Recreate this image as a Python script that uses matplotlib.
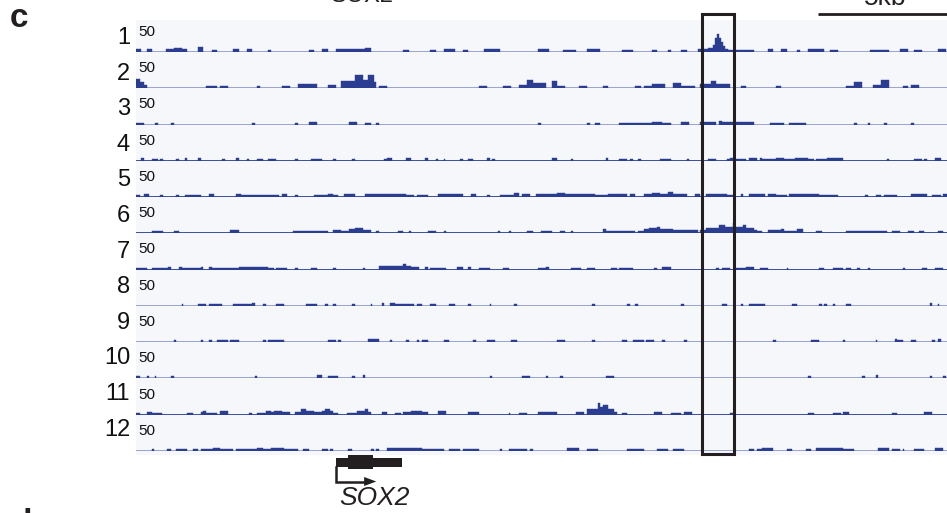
import matplotlib
matplotlib.use('Agg')
import matplotlib.pyplot as plt
from matplotlib.patches import Rectangle, Polygon

plt.rcParams['font.family'] = ['Liberation Sans', 'DejaVu Sans']

# signal per track: (start kb, end kb, value)
track1 = [(0.0, 0.2, 4), (0.4, 0.6, 4), (1.1, 1.4, 4), (1.4, 1.7, 6), (1.7, 1.9, 4),
          (2.3, 2.5, 8), (2.8, 3.0, 3), (3.6, 3.8, 4), (4.1, 4.3, 4), (4.9, 5.0, 3),
          (6.4, 6.6, 3), (6.9, 7.1, 4), (7.4, 7.6, 5), (7.6, 8.2, 4), (8.2, 8.5, 5),
          (8.5, 8.7, 6), (9.9, 10.1, 3), (10.9, 11.1, 3), (11.4, 11.8, 4), (12.1, 12.3, 3),
          (12.9, 13.5, 4), (14.9, 15.3, 4), (15.8, 16.3, 3), (16.7, 17.2, 4), (18.0, 18.4, 3),
          (19.1, 19.3, 3), (19.7, 19.8, 3), (20.2, 20.4, 3), (20.8, 21.0, 4), (21.0, 21.2, 4),
          (21.2, 21.37, 6), (21.37, 21.44, 11), (21.44, 21.52, 21), (21.52, 21.6, 27),
          (21.6, 21.67, 21), (21.67, 21.74, 15), (21.74, 21.81, 9), (21.81, 21.93, 5),
          (21.93, 22.1, 3), (22.2, 22.9, 3), (23.4, 23.6, 4), (23.9, 24.1, 4), (24.5, 24.6, 3),
          (24.9, 25.5, 4), (25.7, 26.0, 3), (27.2, 27.7, 3), (27.7, 27.9, 3), (28.3, 28.6, 5),
          (28.8, 29.1, 3), (29.7, 30.0, 4)]
track2 = [(0.0, 0.15, 14), (0.15, 0.3, 9), (0.3, 0.4, 5), (2.6, 3.0, 3), (3.1, 3.4, 3),
          (4.5, 4.6, 3), (5.4, 5.7, 3), (6.0, 6.7, 6), (7.1, 7.4, 5), (7.6, 8.1, 11),
          (8.1, 8.4, 20), (8.4, 8.6, 12), (8.6, 8.8, 20), (8.8, 8.9, 9), (9.0, 9.3, 4),
          (12.7, 13.0, 3), (13.6, 13.9, 3), (14.2, 14.5, 5), (14.5, 14.7, 12), (14.7, 15.2, 8),
          (15.4, 15.6, 11), (15.6, 15.9, 4), (16.4, 16.7, 3), (17.3, 17.5, 3), (18.5, 18.7, 3),
          (18.8, 19.1, 3), (19.1, 19.6, 6), (19.9, 20.2, 8), (20.2, 20.7, 4), (20.9, 21.3, 6),
          (21.3, 21.5, 11), (21.5, 22.0, 6), (22.4, 22.6, 3), (23.7, 23.9, 3), (26.3, 26.6, 4),
          (26.6, 26.9, 9), (27.3, 27.6, 5), (27.6, 27.9, 12), (28.4, 28.6, 3), (28.7, 29.0, 5)]
track3 = [(0.0, 0.3, 3), (0.7, 0.8, 3), (1.3, 1.4, 3), (4.3, 4.4, 3), (5.9, 6.0, 3),
          (6.4, 6.7, 4), (7.9, 8.2, 4), (8.5, 8.7, 3), (8.9, 9.0, 3), (14.9, 15.0, 3),
          (16.7, 16.8, 3), (17.0, 17.2, 3), (17.9, 19.1, 3), (19.1, 19.5, 4), (19.5, 19.8, 3),
          (20.2, 20.5, 4), (20.9, 21.5, 4), (21.6, 21.7, 6), (21.7, 22.1, 4), (22.2, 22.9, 4),
          (23.5, 24.0, 3), (24.2, 24.8, 3), (26.6, 26.7, 3), (27.1, 27.2, 3), (27.7, 27.8, 3),
          (28.7, 28.8, 3)]
track4 = [(0.2, 0.3, 5), (0.6, 0.8, 3), (0.9, 1.0, 3), (1.5, 1.6, 3), (1.8, 1.9, 4),
          (2.3, 2.4, 4), (3.2, 3.3, 3), (3.7, 3.8, 5), (4.1, 4.2, 3), (4.5, 4.7, 3),
          (4.9, 5.2, 3), (5.9, 6.0, 3), (6.5, 6.9, 3), (7.3, 7.4, 3), (8.0, 8.1, 3),
          (9.2, 9.3, 3), (9.3, 9.5, 5), (10.0, 10.2, 4), (10.7, 10.8, 5), (11.1, 11.2, 3),
          (11.4, 11.45, 3), (12.0, 12.1, 3), (12.3, 12.5, 3), (13.0, 13.1, 4), (13.2, 13.3, 3),
          (15.4, 15.6, 5), (16.1, 16.2, 3), (17.4, 17.5, 5), (17.9, 18.2, 3), (18.3, 18.4, 3),
          (18.6, 18.7, 3), (19.4, 19.8, 3), (20.4, 20.5, 3), (21.2, 21.5, 3), (21.9, 22.0, 3),
          (22.0, 22.2, 4), (22.2, 22.6, 3), (22.7, 23.0, 4), (23.1, 23.2, 5), (23.2, 23.7, 3),
          (23.7, 24.0, 4), (24.0, 24.4, 3), (24.4, 24.6, 5), (24.6, 24.9, 4), (24.9, 25.1, 3),
          (25.2, 25.6, 3), (25.6, 26.2, 4), (27.8, 27.9, 3), (28.8, 29.1, 3), (29.2, 29.3, 3),
          (29.6, 29.8, 5)]
track5 = [(0.0, 0.15, 3), (0.3, 0.5, 4), (0.9, 1.0, 3), (1.5, 1.6, 3), (1.8, 2.4, 3),
          (2.7, 2.9, 4), (3.7, 3.9, 4), (3.9, 4.9, 3), (4.9, 5.3, 3), (5.4, 5.6, 5),
          (5.9, 6.0, 3), (6.6, 7.1, 3), (7.1, 7.3, 4), (7.3, 7.5, 3), (7.7, 8.1, 4),
          (8.5, 9.2, 4), (9.2, 9.3, 5), (9.3, 10.0, 4), (10.0, 10.3, 3), (10.4, 10.8, 3),
          (11.2, 11.9, 5), (11.9, 12.1, 4), (12.4, 12.6, 5), (13.0, 13.1, 3), (13.5, 14.0, 3),
          (14.0, 14.2, 6), (14.3, 14.6, 4), (14.8, 15.0, 5), (15.0, 15.6, 4), (15.6, 15.9, 6),
          (15.9, 16.6, 4), (16.6, 17.0, 5), (17.0, 17.5, 3), (17.5, 17.8, 4), (17.8, 18.0, 5),
          (18.0, 18.2, 4), (18.3, 18.5, 4), (18.8, 19.1, 4), (19.1, 19.4, 6), (19.4, 19.7, 4),
          (19.7, 19.9, 8), (19.9, 20.4, 5), (20.7, 20.9, 4), (21.1, 21.9, 5), (21.9, 22.1, 3),
          (22.4, 22.5, 4), (22.7, 23.3, 4), (23.4, 23.7, 4), (23.7, 24.1, 3), (24.2, 24.7, 4),
          (24.7, 25.3, 4), (25.3, 26.0, 3), (27.0, 27.1, 3), (27.4, 27.6, 3), (27.7, 28.2, 3),
          (28.7, 29.3, 5), (29.5, 29.8, 3), (29.9, 30.1, 4)]
track6 = [(0.6, 1.0, 4), (1.4, 1.6, 3), (3.5, 3.8, 5), (5.8, 6.4, 4), (6.4, 7.1, 3),
          (7.3, 7.6, 5), (7.6, 7.9, 4), (7.9, 8.1, 6), (8.1, 8.4, 8), (8.4, 8.7, 5),
          (8.9, 9.0, 4), (9.7, 9.9, 4), (10.1, 10.2, 4), (10.8, 11.1, 4), (11.4, 11.5, 3),
          (13.4, 13.5, 3), (13.8, 13.9, 3), (14.5, 14.7, 4), (15.0, 15.2, 3), (15.2, 15.4, 4),
          (15.7, 15.9, 3), (16.1, 16.2, 3), (17.3, 17.4, 6), (17.4, 17.9, 3), (17.9, 18.5, 4),
          (18.6, 18.8, 4), (18.8, 19.0, 6), (19.0, 19.3, 8), (19.3, 19.4, 9), (19.4, 19.9, 6),
          (19.9, 20.8, 5), (20.9, 21.1, 5), (21.1, 21.6, 8), (21.6, 21.8, 12), (21.8, 22.1, 9),
          (22.1, 22.2, 15), (22.2, 22.5, 9), (22.5, 22.6, 12), (22.6, 22.9, 8), (22.9, 23.0, 5),
          (23.0, 23.2, 3), (23.4, 23.9, 5), (23.9, 24.0, 6), (24.0, 24.5, 4), (24.5, 24.7, 6),
          (25.2, 25.4, 3), (26.3, 27.3, 3), (27.3, 27.8, 4), (28.0, 28.3, 3), (28.6, 28.8, 4),
          (29.0, 29.2, 4), (29.7, 29.9, 3)]
track7 = [(0.0, 0.4, 3), (0.6, 1.2, 3), (1.2, 1.3, 4), (1.6, 1.7, 4), (1.7, 2.4, 3),
          (2.4, 2.5, 4), (2.7, 2.8, 4), (2.8, 3.8, 3), (3.8, 4.9, 4), (4.9, 5.1, 3),
          (5.2, 5.6, 3), (5.9, 6.0, 3), (6.5, 6.7, 3), (7.3, 7.4, 3), (8.4, 8.5, 3),
          (9.0, 9.3, 5), (9.3, 9.7, 6), (9.7, 9.9, 5), (9.9, 10.0, 9), (10.0, 10.2, 5),
          (10.2, 10.5, 4), (10.7, 10.8, 4), (10.9, 11.5, 3), (11.9, 12.1, 4), (12.3, 12.4, 4),
          (12.7, 13.1, 3), (13.6, 13.8, 3), (14.9, 15.2, 3), (15.2, 15.3, 4), (16.1, 16.4, 3),
          (16.4, 16.5, 3), (16.7, 17.0, 3), (17.6, 17.8, 3), (17.9, 18.4, 3), (19.2, 19.3, 3),
          (19.5, 19.8, 4), (21.5, 21.6, 3), (21.7, 22.0, 3), (22.2, 22.6, 3), (22.6, 22.9, 4),
          (23.1, 23.4, 3), (24.1, 24.15, 3), (25.3, 25.5, 3), (25.8, 26.2, 3), (26.3, 26.5, 3),
          (26.7, 26.8, 3), (27.1, 27.2, 3), (28.4, 28.5, 3), (29.1, 29.3, 3), (29.6, 29.9, 3)]
track8 = [(1.7, 1.75, 3), (2.3, 2.6, 3), (2.7, 3.2, 3), (3.6, 4.1, 3), (4.1, 4.3, 3),
          (4.3, 4.4, 4), (4.7, 4.8, 3), (5.2, 5.5, 3), (6.3, 6.7, 3), (7.0, 7.1, 3),
          (7.3, 7.4, 3), (8.0, 8.1, 3), (8.7, 8.75, 3), (9.1, 9.2, 4), (9.4, 9.6, 5),
          (9.6, 10.3, 3), (10.4, 10.6, 3), (10.9, 11.1, 3), (11.6, 11.8, 3), (12.3, 12.4, 3),
          (13.1, 13.15, 3), (14.0, 14.1, 3), (16.9, 17.0, 3), (18.2, 18.3, 3), (18.5, 18.6, 3),
          (20.2, 20.3, 3), (21.7, 21.9, 3), (22.4, 22.5, 3), (22.7, 23.3, 3), (24.3, 24.5, 3),
          (25.3, 25.4, 3), (25.5, 25.6, 3), (25.8, 25.9, 3), (26.3, 26.5, 3), (29.4, 29.5, 4),
          (29.7, 29.75, 3)]
track9 = [(1.4, 1.5, 3), (2.4, 2.5, 3), (2.7, 2.8, 3), (3.0, 3.2, 3), (3.2, 3.4, 3),
          (3.5, 3.6, 4), (3.6, 3.8, 3), (4.7, 4.8, 3), (4.9, 5.5, 3), (7.1, 7.3, 3),
          (7.3, 7.4, 4), (7.5, 7.6, 3), (8.6, 9.0, 5), (9.4, 9.5, 4), (10.0, 10.1, 3),
          (10.4, 10.5, 3), (10.6, 10.8, 3), (11.4, 11.6, 3), (12.5, 12.6, 3), (13.0, 13.3, 4),
          (13.9, 14.1, 3), (15.6, 15.9, 3), (16.9, 17.0, 3), (18.0, 18.2, 3), (18.4, 18.8, 3),
          (18.9, 19.1, 4), (19.1, 19.2, 3), (19.5, 19.6, 3), (20.3, 20.4, 4), (23.6, 23.7, 3),
          (25.0, 25.3, 3), (26.2, 26.25, 3), (27.4, 27.45, 3), (28.1, 28.2, 5), (28.2, 28.4, 4),
          (28.7, 28.9, 3), (29.5, 29.6, 4), (29.7, 29.8, 5)]
track10 = [(0.0, 0.15, 3), (0.4, 0.5, 3), (0.7, 0.75, 3), (1.3, 1.4, 4), (4.4, 4.5, 3),
           (6.7, 6.9, 5), (7.1, 7.3, 3), (7.3, 7.5, 3), (8.0, 8.1, 4), (8.4, 8.5, 5),
           (13.1, 13.2, 3), (14.3, 14.6, 3), (15.2, 15.25, 3), (15.7, 15.8, 4), (17.4, 17.7, 3),
           (24.9, 25.0, 4), (26.9, 27.0, 3), (27.4, 27.5, 5), (29.4, 29.5, 3), (29.9, 30.0, 3)]
track11 = [(0.0, 0.15, 3), (0.4, 0.6, 4), (0.6, 0.96, 3), (1.9, 2.1, 3), (2.4, 2.5, 4),
           (2.5, 2.6, 5), (2.6, 3.0, 3), (3.1, 3.4, 5), (4.2, 4.3, 3), (4.5, 4.8, 3),
           (4.8, 5.0, 5), (5.0, 5.1, 4), (5.1, 5.4, 6), (5.4, 5.7, 4), (5.9, 6.1, 4),
           (6.1, 6.3, 8), (6.3, 6.4, 5), (6.4, 6.6, 6), (6.6, 6.9, 4), (6.9, 7.0, 5),
           (7.0, 7.2, 8), (7.2, 7.3, 6), (7.3, 7.5, 3), (7.8, 8.2, 3), (8.2, 8.5, 5),
           (8.5, 8.6, 8), (8.6, 8.7, 4), (9.1, 9.3, 4), (9.6, 9.8, 3), (9.9, 10.2, 4),
           (10.2, 10.6, 6), (10.6, 10.8, 4), (11.2, 11.5, 5), (12.3, 12.7, 4), (13.8, 13.85, 3),
           (14.2, 14.5, 3), (14.9, 15.6, 4), (16.3, 16.6, 4), (16.7, 17.1, 8), (17.1, 17.2, 18),
           (17.2, 17.3, 12), (17.3, 17.5, 15), (17.5, 17.7, 8), (17.7, 17.8, 4), (18.0, 18.2, 3),
           (19.2, 19.5, 4), (19.8, 20.2, 3), (20.3, 20.6, 4), (22.0, 22.2, 3), (24.9, 25.1, 3),
           (25.8, 26.1, 3), (26.2, 26.4, 4), (28.0, 28.2, 3), (29.2, 29.5, 4)]
track12 = [(0.6, 0.65, 3), (1.15, 1.3, 3), (1.5, 1.9, 3), (2.1, 2.3, 3), (2.4, 3.6, 3),
           (2.85, 3.1, 4), (3.7, 4.5, 3), (4.5, 4.7, 5), (4.7, 5.0, 3), (5.0, 5.5, 4),
           (5.5, 6.0, 3), (6.2, 6.4, 3), (6.9, 7.1, 3), (7.2, 7.3, 3), (7.85, 8.0, 3),
           (8.7, 8.8, 3), (8.9, 9.0, 3), (9.3, 9.6, 4), (9.6, 10.3, 4), (10.3, 10.6, 5),
           (10.6, 11.4, 3), (11.6, 12.0, 3), (12.1, 12.7, 3), (13.5, 13.55, 3), (13.8, 14.5, 3),
           (14.6, 14.7, 3), (15.96, 16.4, 4), (16.7, 17.1, 3), (18.2, 18.8, 3), (19.3, 19.7, 3),
           (19.9, 20.3, 3), (22.7, 22.9, 3), (23.0, 23.2, 3), (23.2, 23.6, 4), (24.1, 24.3, 3),
           (24.8, 25.0, 3), (25.2, 25.3, 4), (25.3, 25.9, 5), (25.9, 26.2, 4), (26.2, 26.6, 3),
           (27.5, 27.9, 4), (28.0, 28.3, 3), (28.4, 28.45, 3), (28.8, 29.2, 3), (29.6, 29.9, 4)]

tracks = [track1, track2, track3, track4, track5, track6,
          track7, track8, track9, track10, track11, track12]
track_names = [str(i) for i in range(1, 13)]
track_max = 50
view_kb = (0.0, 30.04)
highlight_kb = (20.96, 22.15)
scalebar_kb = (25.26, 30.26)
gene_name = 'SOX2'
gene_kb = (7.41, 9.85)
gene_thick_kb = (7.85, 8.78)

fill_col = '#2a3d91'
dark_line = '#3b4ea0'
light_line = '#98a3d0'
track_line = [light_line, light_line, light_line, dark_line, dark_line, dark_line,
              dark_line, light_line, light_line, light_line, dark_line, light_line]
ink = '#231f20'

W, H = 947, 513
fig = plt.figure(figsize=(W / 100, H / 100), dpi=100)

x0 = 136 / W
xw = 1 - x0
top_px, bot_px = 20, 455
base0, step = 52, 36.27
track_h = 33

# shared background of the track area
bg = fig.add_axes([x0, 1 - bot_px / H, xw, (bot_px - top_px) / H])
bg.set_facecolor('#f5f7fa')
bg.set_xticks([])
bg.set_yticks([])
for s in bg.spines.values():
    s.set_visible(False)

for i, segs in enumerate(tracks):
    base = base0 + step * i
    ax = fig.add_axes([x0, 1 - base / H, xw, track_h / H])
    ax.patch.set_alpha(0)
    ax.axis('off')
    ax.set_xlim(*view_kb)
    ax.set_ylim(0, track_max)
    starts = [s[0] for s in segs]
    widths = [s[1] - s[0] for s in segs]
    vals = [s[2] for s in segs]
    ax.axhline(0, color=track_line[i], lw=1.4, zorder=1)
    ax.bar(starts, vals, width=widths, align='edge', color=fill_col, linewidth=0.3,
           edgecolor=fill_col, zorder=2)
    ax.text(0.003, 0.49, str(track_max), transform=ax.transAxes, fontsize=11,
            ha='left', va='baseline', color='#111111')
    fig.text(130 / W, 1 - (38 + 35.6 * i) / H, track_names[i], fontsize=17,
             ha='right', va='center', color='#111111')

# overlay for box, scale bar and gene model (x in kb, y in pixels)
ov = fig.add_axes([x0, 0, xw, 1])
ov.patch.set_alpha(0)
ov.axis('off')
ov.set_xlim(*view_kb)
ov.set_ylim(H, 0)

ov.add_patch(Rectangle((highlight_kb[0], 14), highlight_kb[1] - highlight_kb[0], 440,
                       fill=False, ec=ink, lw=2.2, clip_on=False, zorder=5))
ov.plot(scalebar_kb, [14, 14], color=ink, lw=2, clip_on=False, solid_capstyle='butt')
ov.text(sum(scalebar_kb) / 2, 5, '5kb', fontsize=19, ha='center', va='baseline',
        color=ink, clip_on=False)
ov.text(8.4, 2, gene_name, fontsize=17, ha='center', va='baseline', color=ink,
        clip_on=False)

# gene model
ov.add_patch(Rectangle((gene_kb[0], 458), gene_kb[1] - gene_kb[0], 9, color=ink, lw=0))
ov.add_patch(Rectangle((gene_thick_kb[0], 454.5), gene_thick_kb[1] - gene_thick_kb[0], 14,
                       color=ink, lw=0))
ov.plot([gene_kb[0], gene_kb[0], 8.5], [467, 481.5, 481.5], color=ink, lw=1.8,
        solid_joinstyle='miter')
ov.add_patch(Polygon([(8.45, 477), (8.9, 481.5), (8.45, 486)], closed=True, color=ink, lw=0))
ov.text(gene_kb[0] + 0.1, 505, gene_name, fontsize=19, style='italic', ha='left',
        va='baseline', color=ink)

fig.text(10 / W, 1 - 27 / H, 'c', fontsize=24, fontweight='bold', ha='left',
         va='baseline', color=ink)
fig.text(12 / W, 1 - 532 / H, 'd', fontsize=24, fontweight='bold', ha='left',
         va='baseline', color=ink)

fig.savefig('out.png', dpi=100)
